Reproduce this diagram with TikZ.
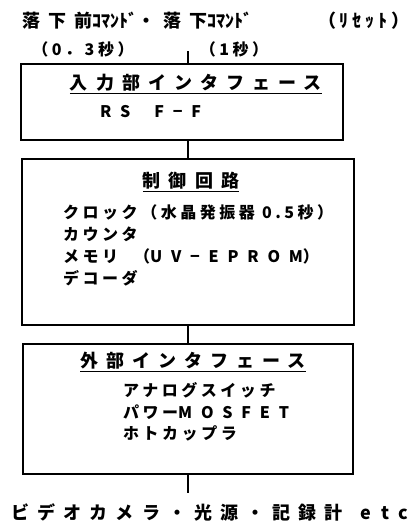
\documentclass[tikz,border=0pt]{standalone}
\usepackage{fontspec}
\setmainfont{Noto Sans CJK JP}
\newfontfamily\jpwide{Noto Sans CJK JP}[LetterSpace=45]
\newfontfamily\jpitem{Noto Sans CJK JP}[LetterSpace=22]
\newfontfamily\jplatin{Noto Sans CJK JP}[LetterSpace=55]
\begin{document}
\begin{tikzpicture}[x=1pt,y=-1pt,
    blk/.style={draw,line width=1.1pt,inner sep=0pt},
    ttl/.style={font=\jpwide\bfseries\fontsize{18}{20}\selectfont,inner sep=0pt},
    itm/.style={font=\jpitem\bfseries\fontsize{16}{18}\selectfont,inner sep=0pt,anchor=west},
    wire/.style={line width=1.1pt}]
    \useasboundingbox (0,0) rectangle (413,523);

    % blocks
    \node[blk,minimum width=322pt,minimum height=76pt] (inp) at (182,102) {};
    \node[blk,minimum width=332pt,minimum height=166pt] (ctl) at (188,242) {};
    \node[blk,minimum width=330pt,minimum height=130pt] (ext) at (188,409) {};

    % commands
    \node[ttl,anchor=west] (cmd) at (22,21) {落下前{\normalfont\bfseries ｺﾏﾝﾄﾞ}・落下{\normalfont\bfseries ｺﾏﾝﾄﾞ}};
    \node[ttl,anchor=east,font=\jpitem\bfseries\fontsize{18}{20}\selectfont] (rst) at (410,21) {（ﾘｾｯﾄ）};
    \node[itm,anchor=center] (tA) at (83,49) {（0．3秒）};
    \node[itm,anchor=center] (tB) at (234,49) {（1秒）};
    \coordinate (top) at (188,51);

    \node[ttl] (inpT) at (196,84) {\underline{入力部インタフェース}};
    \node[itm,anchor=west] (rs) at (100,112) {{\jplatin RS}\hspace{24pt}{\jplatin F−F}};

    \node[ttl] (ctlT) at (191,182) {\underline{制御回路}};
    \node[itm] (clk) at (63,212) {クロック（水晶発振器 0.5秒）};
    \node[itm] (cnt) at (63,234) {カウンタ};
    \node[itm] (mem) at (63,256) {メモリ\quad（{\jplatin UV−EPROM}）};
    \node[itm] (dec) at (63,278) {デコーダ};

    \node[ttl] (extT) at (193,362) {\underline{外部インタフェース}};
    \node[itm] (sw) at (123,390) {アナログスイッチ};
    \node[itm] (fet) at (123,412) {パワー{\jplatin MOSFET}};
    \node[itm] (pc) at (123,433) {ホトカップラ};

    \coordinate (bot) at (188,493);
    \node[ttl,font=\jpwide\bfseries\fontsize{18}{20}\selectfont] (dev) at (210,512) {ビデオカメラ・光源・記録計\quad{\jplatin etc}};

    % wiring
    \draw[wire] (top) -- (top |- inp.north);
    \draw[wire] (ctl.north) -- (ctl.north |- inp.south);
    \draw[wire] (ext.north) -- (ext.north |- ctl.south);
    \draw[wire] (ext.south) -- (bot);
\end{tikzpicture}
\end{document}
